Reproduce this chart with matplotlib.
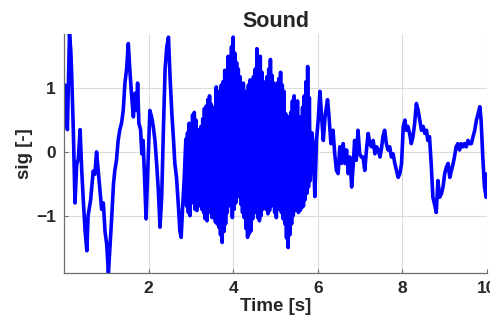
import numpy as np
import matplotlib
matplotlib.use("Agg")
from matplotlib import pyplot as plt

# slow part before the burst (time [s], signal)
t_start = [0.00, 0.02, 0.05, 0.08, 0.13, 0.16, 0.18, 0.22, 0.26, 0.30, 0.34, 0.38,
           0.42, 0.46, 0.50, 0.54, 0.57, 0.63, 0.69, 0.73, 0.77, 0.81, 0.85, 0.89,
           0.93, 0.97, 1.01, 1.05, 1.09, 1.13, 1.17, 1.20, 1.24, 1.28, 1.32, 1.36,
           1.40, 1.44, 1.48, 1.52, 1.56, 1.60, 1.64, 1.68, 1.72, 1.74, 1.77, 1.81,
           1.84, 1.87, 1.91, 1.94, 1.98, 2.03, 2.07, 2.11, 2.15, 2.19, 2.23, 2.27,
           2.31, 2.35, 2.39, 2.43, 2.47, 2.51, 2.55, 2.59, 2.62, 2.66, 2.70, 2.74,
           2.77, 2.80, 2.84]
sig_start = [0.95, 1.05, 0.65, 0.35, 1.85, 1.60, 1.25, 0.35, -0.80, -0.20, -0.10, 0.35,
             -0.30, -0.80, -1.25, -1.55, -1.00, -0.75, -0.30, -0.35, 0.00, -0.30, -0.60, -0.90,
             -0.80, -1.25, -1.45, -1.90, -1.45, -1.00, -0.50, -0.30, -0.13, 0.18, 0.35, 0.45,
             0.65, 1.08, 1.30, 1.70, 1.25, 0.87, 0.55, 0.92, 0.65, 1.08, 0.45, 0.35,
             -0.03, 0.18, -0.50, -1.05, -0.30, 0.65, 0.55, 0.40, 0.18, -0.18, -0.60, -1.18,
             -0.70, 0.35, 1.30, 1.65, 1.80, 1.13, 0.60, 0.18, -0.18, -0.40, -0.80, -1.24,
             -1.34, -0.92, -0.45]

# burst 2.88 s .. 5.82 s: upper and lower peaks alternate every 0.02 s
burst_t0 = 2.88
burst_dt = 0.02
burst_hi = [0.20, 0.30, 0.45, 0.40, 0.58, 0.62, 0.50, 0.35, 0.25, 0.40,
            0.52, 0.68, 0.72, 0.82, 0.88, 0.75, 0.70, 0.60, 1.02, 0.90,
            0.95, 1.05, 1.10, 1.28, 1.25, 1.50, 1.40, 1.65, 1.80, 1.55,
            1.40, 1.30, 1.18, 1.00, 1.08, 0.95, 0.92, 1.05, 1.13, 1.00,
            1.18, 1.30, 1.62, 1.40, 1.50, 1.25, 1.10, 1.00, 1.18, 1.30,
            1.45, 1.20, 1.08, 0.95, 1.08, 1.15, 1.25, 1.05, 0.95, 0.60,
            0.35, 0.55, 0.62, 0.80, 0.88, 0.70, 0.80, 0.55, 0.45, 0.70,
            0.88, 1.10, 1.34, 0.85]
burst_lo = [-0.85, -0.95, -1.00, -0.80, -0.72, -0.90, -0.92, -0.85, -0.80, -0.90,
            -0.95, -1.05, -1.08, -0.92, -0.95, -1.03, -1.00, -1.10, -1.13, -1.18,
            -1.30, -1.42, -1.25, -1.13, -0.95, -0.75, -0.85, -1.03, -0.90, -0.80,
            -0.62, -0.70, -0.82, -0.95, -1.03, -1.20, -1.34, -1.28, -1.24, -1.05,
            -0.87, -0.95, -1.03, -1.08, -1.00, -0.90, -0.82, -0.90, -0.97, -0.92,
            -0.85, -0.82, -0.95, -1.03, -0.90, -0.82, -0.95, -1.05, -1.13, -1.35,
            -1.50, -1.30, -1.13, -1.00, -0.92, -0.90, -0.95, -0.92, -0.88, -0.85,
            -0.75, -0.65, -0.55, -0.45]

# tail after the burst
t_end = [5.86, 5.89, 5.93, 5.97, 6.01, 6.05, 6.09, 6.13, 6.17, 6.23, 6.26, 6.31,
         6.36, 6.40, 6.44, 6.48, 6.52, 6.56, 6.60, 6.64, 6.68, 6.72, 6.76, 6.80,
         6.84, 6.87, 6.91, 6.95, 6.99, 7.03, 7.07, 7.11, 7.15, 7.19, 7.23, 7.27,
         7.31, 7.35, 7.39, 7.43, 7.47, 7.50, 7.54, 7.58, 7.62, 7.66, 7.70, 7.74,
         7.78, 7.82, 7.86, 7.90, 7.94, 7.98, 8.02, 8.06, 8.09, 8.13, 8.17, 8.21,
         8.25, 8.29, 8.33, 8.37, 8.41, 8.45, 8.49, 8.53, 8.57, 8.60, 8.64, 8.68,
         8.72, 8.76, 8.80, 8.84, 8.88, 8.92, 8.96, 9.00, 9.04, 9.08, 9.12, 9.16,
         9.20, 9.23, 9.27, 9.31, 9.35, 9.39, 9.43, 9.47, 9.51, 9.55, 9.59, 9.63,
         9.67, 9.71, 9.75, 9.79, 9.83, 9.86, 9.90, 9.94, 9.98, 10.00]
sig_end = [0.30, 0.10, -0.70, 0.20, 0.50, 0.95, 0.55, 0.18, 0.55, 0.82, 0.60, 0.13,
           0.34, -0.03, -0.29, -0.34, 0.08, -0.18, 0.13, -0.18, 0.03, -0.34, -0.08, -0.55,
           -0.18, 0.18, -0.13, 0.34, -0.03, -0.08, -0.08, -0.29, 0.03, 0.29, 0.13, 0.08,
           0.18, -0.03, 0.08, 0.03, -0.08, 0.03, 0.24, 0.34, 0.13, 0.03, 0.08, -0.08,
           -0.03, -0.18, -0.29, -0.40, -0.34, -0.18, 0.40, 0.50, 0.34, 0.40, 0.29, 0.13,
           0.24, 0.45, 0.76, 0.66, 0.50, 0.34, 0.40, 0.29, 0.34, 0.18, 0.24, -0.18,
           -0.71, -0.82, -0.95, -0.45, -0.71, -0.66, -0.55, -0.34, -0.24, -0.18, -0.40, -0.29,
           -0.18, -0.08, 0.08, 0.13, 0.03, 0.13, 0.08, 0.13, 0.08, 0.18, 0.13, 0.13,
           0.24, 0.34, 0.50, 0.60, 0.71, 0.50, -0.08, -0.55, -0.71, -0.35]

xticks = [2, 4, 6, 8, 10]
yticks = [-1, 0, 1]

t_burst = burst_t0 + burst_dt * np.arange(2 * len(burst_hi))
sig_burst = np.column_stack([burst_hi, burst_lo]).ravel()

t = np.concatenate([t_start, t_burst, t_end])
sig = np.concatenate([sig_start, sig_burst, sig_end])

plt.rcParams['font.family'] = ['Liberation Sans', 'DejaVu Sans']
plt.rcParams['font.weight'] = 'bold'
# keep every sample of the burst, no path thinning
plt.rcParams['path.simplify'] = False
txt = '#262626'

fig = plt.figure(figsize=(4.9, 3.29), dpi=100)
ax = fig.add_axes([0.1306, 0.170, 0.8633, 0.7267])

ax.plot(t, sig, color=(0, 0, 1), lw=2.6, solid_joinstyle='round')

# axis tight, box off
ax.set_xlim(t[0], t[-1])
ax.set_ylim(sig.min(), sig.max())
ax.set_xticks(xticks)
ax.set_yticks(yticks)
ax.grid(True, color='#dcdcdc', lw=0.8)
ax.set_axisbelow(True)
for s in ['top', 'right']:
    ax.spines[s].set_visible(False)
for s in ['left', 'bottom']:
    ax.spines[s].set_color('#6e6e6e')
    ax.spines[s].set_linewidth(0.9)
ax.tick_params(direction='in', length=3, width=0.8, color='#6e6e6e',
               labelsize=12.5, labelcolor=txt, pad=6)
for lab in ax.get_xticklabels() + ax.get_yticklabels():
    lab.set_fontweight('bold')

ax.set_title('Sound', fontsize=15.5, fontweight='bold', color=txt, pad=5)
ax.set_xlabel('Time [s]', fontsize=13.5, fontweight='bold', color=txt, labelpad=1)
ax.set_ylabel('sig [-]', fontsize=13.5, fontweight='bold', color=txt, labelpad=2)

fig.savefig('out.png', dpi=100)
